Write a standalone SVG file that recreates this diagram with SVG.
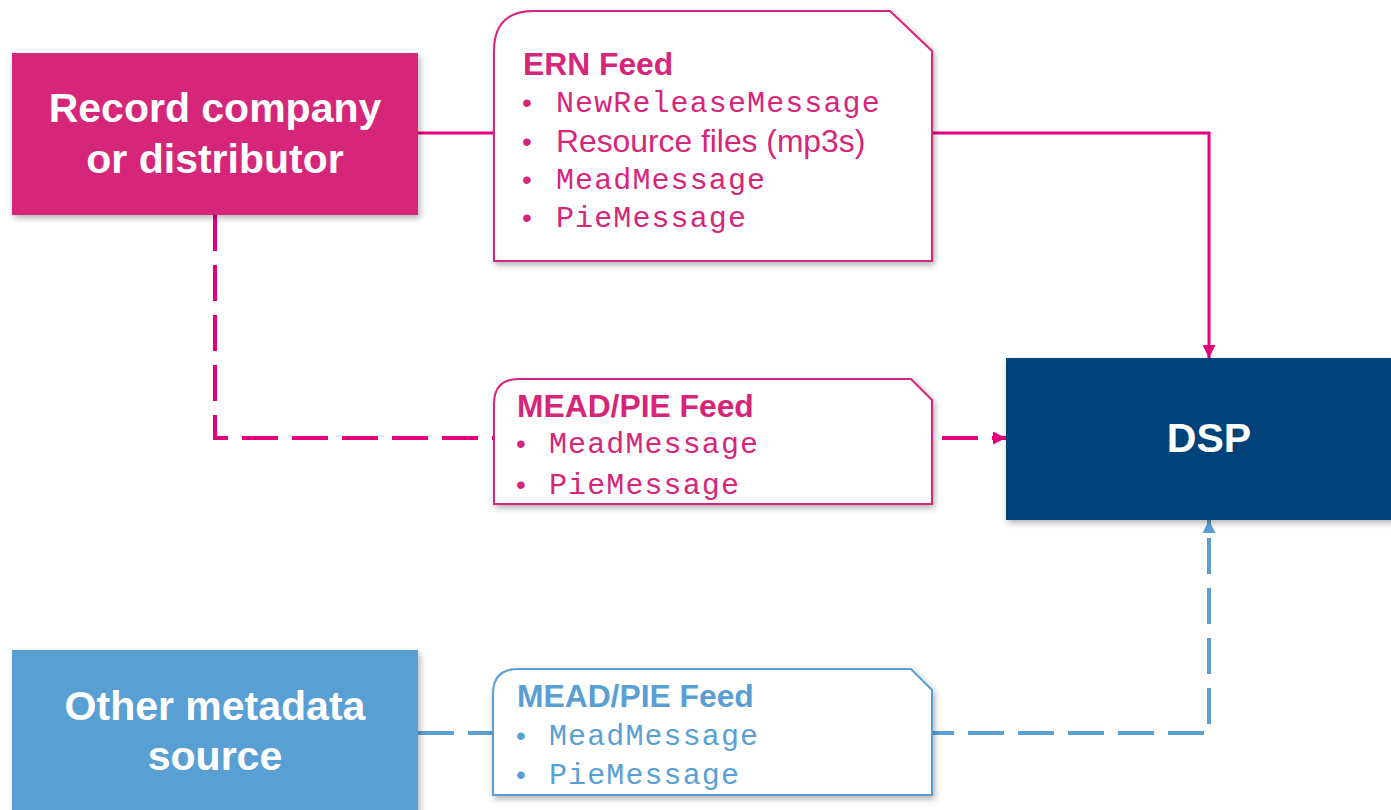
<svg xmlns="http://www.w3.org/2000/svg" width="1391" height="810" viewBox="0 0 1391 810">
<style>
.node-text{font-family:"Liberation Sans",Arial,sans-serif;font-weight:bold;fill:#fff;text-anchor:middle;font-size:41px}
.title{font-family:"Liberation Sans",Arial,sans-serif;font-weight:bold;font-size:31.8px}
.mono{font-family:"Liberation Mono","Courier New",monospace;font-size:30px;letter-spacing:1.1px}
.sans{font-family:"Liberation Sans",Arial,sans-serif;font-size:31.8px}
.bullet{font-family:"Liberation Sans",Arial,sans-serif;font-size:28px;text-anchor:middle}
.pink{fill:#D6267A}
.blue{fill:#5A9FD4}
.callout{fill:#fff;stroke-width:2}
</style>
<defs>
<filter id="sh" x="-10%" y="-10%" width="130%" height="130%">
<feDropShadow dx="2" dy="3" stdDeviation="3" flood-color="#000" flood-opacity="0.3"/>
</filter>
<marker id="arrP" viewBox="0 0 12 12" refX="12" refY="6" markerWidth="13" markerHeight="13" markerUnits="userSpaceOnUse" orient="auto">
<path d="M0,0 L12,6 L0,12 Z" fill="#E4007C"/>
</marker>
<marker id="arrB" viewBox="0 0 12 12" refX="12" refY="6" markerWidth="13" markerHeight="13" markerUnits="userSpaceOnUse" orient="auto">
<path d="M0,0 L12,6 L0,12 Z" fill="#5A9FD4"/>
</marker>
</defs>
<rect width="1391" height="810" fill="#fff"/>

<g id="connectors" fill="none">
<path d="M418,133 L494,133" stroke="#E4007C" stroke-width="3"/>
<path d="M932,133 L1209,133 L1209,358" stroke="#E4007C" stroke-width="3" marker-end="url(#arrP)"/>
<path d="M215,215 L215,438 L1006,438" stroke="#E4007C" stroke-width="4" stroke-dasharray="36 14" marker-end="url(#arrP)"/>
<path d="M418,733 L1209,733 L1209,520" stroke="#5A9FD4" stroke-width="4" stroke-dasharray="36 14" marker-end="url(#arrB)"/>
</g>

<g id="record-company">
<rect x="12" y="53" width="406" height="162" fill="#D6267A" filter="url(#sh)"/>
<text class="node-text" x="215" y="122">Record company</text>
<text class="node-text" x="215" y="173">or distributor</text>
</g>

<g id="other-source">
<rect x="12" y="650" width="406" height="165" fill="#5A9FD4" filter="url(#sh)"/>
<text class="node-text" x="215" y="720">Other metadata</text>
<text class="node-text" x="215" y="770">source</text>
</g>

<g id="dsp">
<rect x="1006" y="358" width="390" height="162" fill="#00427A" filter="url(#sh)"/>
<text class="node-text" x="1209" y="452">DSP</text>
</g>

<g id="ern-feed">
<path class="callout" d="M494,51 Q494,11 534,11 L890,11 L932,51 L932,261 L494,261 Z" stroke="#D6267A" filter="url(#sh)"/>
<text class="title pink" x="523" y="75">ERN Feed</text>
<text class="bullet pink" x="527" y="112">•</text>
<text class="mono pink" x="556" y="112">NewReleaseMessage</text>
<text class="bullet pink" x="527" y="151">•</text>
<text class="sans pink" x="556" y="152">Resource files (mp3s)</text>
<text class="bullet pink" x="527" y="189">•</text>
<text class="mono pink" x="556" y="189">MeadMessage</text>
<text class="bullet pink" x="527" y="227">•</text>
<text class="mono pink" x="556" y="227">PieMessage</text>
</g>

<g id="mead-pie-feed-1">
<path class="callout" d="M494,404 Q494,379 519,379 L911,379 L932,400 L932,504 L494,504 Z" stroke="#D6267A" filter="url(#sh)"/>
<text class="title pink" x="517" y="417">MEAD/PIE Feed</text>
<text class="bullet pink" x="521" y="453">•</text>
<text class="mono pink" x="549" y="453">MeadMessage</text>
<text class="bullet pink" x="521" y="494">•</text>
<text class="mono pink" x="549" y="494">PieMessage</text>
</g>

<g id="mead-pie-feed-2">
<path class="callout" d="M493,694 Q493,669 518,669 L911,669 L932,690 L932,795 L493,795 Z" stroke="#5A9FD4" filter="url(#sh)"/>
<text class="title blue" x="517" y="707">MEAD/PIE Feed</text>
<text class="bullet blue" x="521" y="745">•</text>
<text class="mono blue" x="549" y="745">MeadMessage</text>
<text class="bullet blue" x="521" y="784">•</text>
<text class="mono blue" x="549" y="784">PieMessage</text>
</g>
</svg>
